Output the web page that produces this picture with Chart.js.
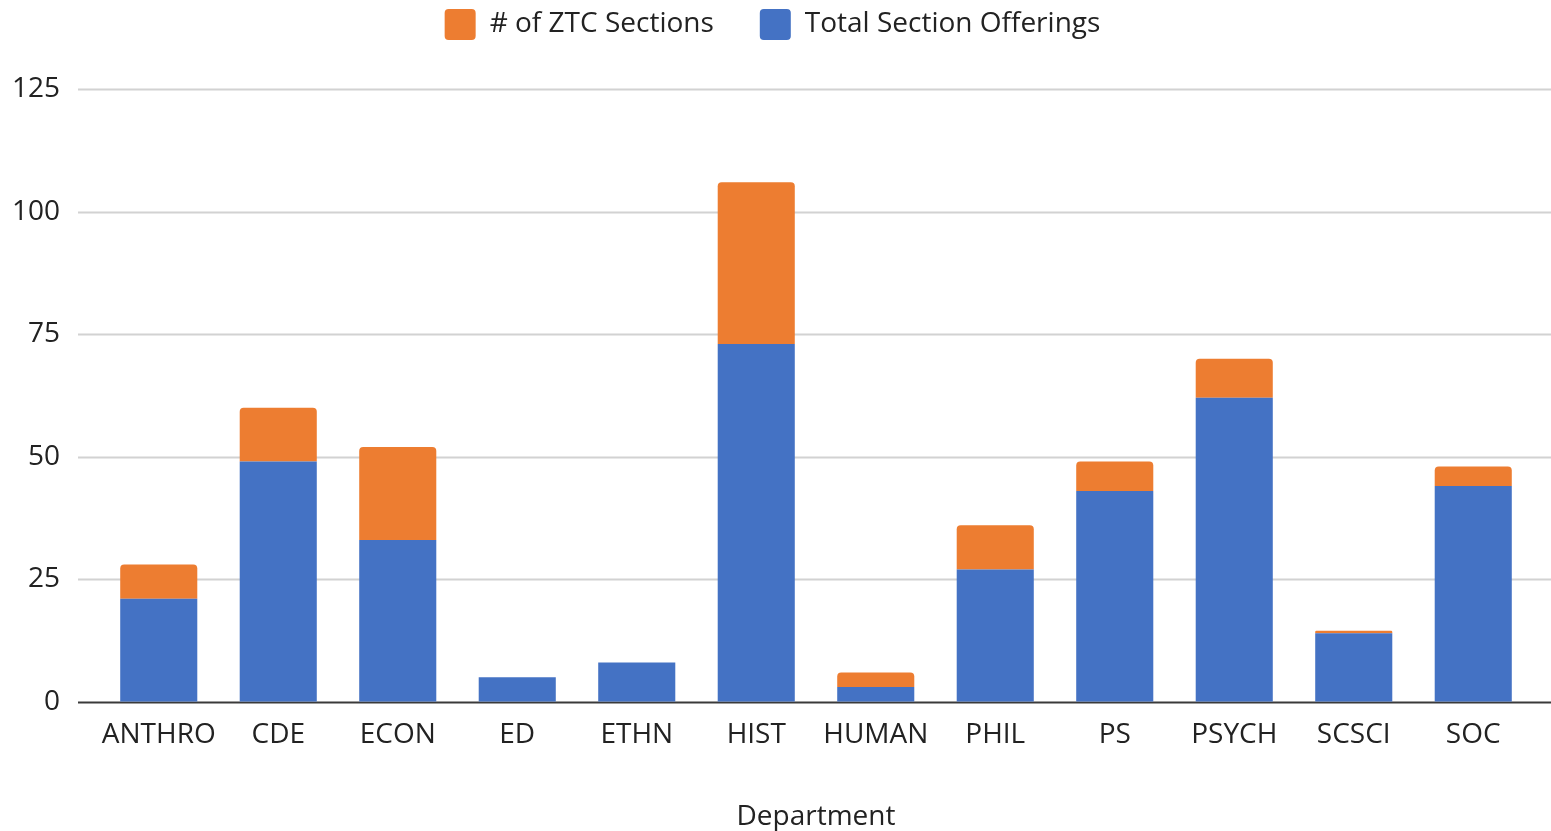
<!DOCTYPE html>
<html lang="en">
<head>
  <meta charset="UTF-8">
  <title>ZTC Sections by Department</title>
  <script src="https://cdn.jsdelivr.net/npm/chart.js"></script>
  <style>
    html, body {
      margin: 0;
      padding: 0;
      background: #fff;
    }
    .chart-wrap {
      width: 1551px;
      height: 831px;
    }
  </style>
</head>
<body>
  <div class="chart-wrap">
    <canvas id="ztcChart"></canvas>
  </div>

  <script>
    // data
    const departments = ['ANTHRO', 'CDE', 'ECON', 'ED', 'ETHN', 'HIST', 'HUMAN', 'PHIL', 'PS', 'PSYCH', 'SCSCI', 'SOC'];
    const totalOfferings = [21, 49, 33, 5, 8, 73, 3, 27, 43, 62, 14, 44];
    const ztcSections = [7, 11, 19, 0, 0, 33, 3, 9, 6, 8, 0.5, 4];
    const yTicks = [0, 25, 50, 75, 100, 125];

    const textColor = '#222';
    const fontFamily = '"Open Sans", sans-serif';

    // grid lines reach a bit past the category band, like the original
    const gridPlugin = {
      id: 'wideGrid',
      beforeDatasetsDraw(chart) {
        const ctx = chart.ctx;
        const y = chart.scales.y;
        ctx.save();
        yTicks.forEach(function (v) {
          const py = Math.round(y.getPixelForValue(v)) + 0.5;
          ctx.beginPath();
          ctx.strokeStyle = v === 0 ? '#3a3a3a' : '#d2d2d2';
          ctx.lineWidth = 2;
          ctx.moveTo(chart.chartArea.left - 21, py);
          ctx.lineTo(chart.chartArea.right + 18, py);
          ctx.stroke();
        });
        ctx.restore();
      }
    };

    // more room between the legend and the plot
    const legendGap = {
      id: 'legendGap',
      beforeInit(chart) {
        const fit = chart.legend.fit;
        chart.legend.fit = function () {
          fit.call(this);
          this.height += 39;
        };
      }
    };

    const ctx = document.getElementById('ztcChart').getContext('2d');
    new Chart(ctx, {
      type: 'bar',
      data: {
        labels: departments,
        datasets: [
          {
            label: 'Total Section Offerings',
            data: totalOfferings,
            backgroundColor: '#4472C4',
            borderWidth: 0,
            borderRadius: 0
          },
          {
            label: '# of ZTC Sections',
            data: ztcSections,
            backgroundColor: '#ED7D31',
            borderWidth: 0,
            borderRadius: 4,
            borderSkipped: 'bottom'
          }
        ]
      },
      options: {
        responsive: true,
        maintainAspectRatio: false,
        animation: false,
        categoryPercentage: 1,
        barPercentage: 0.645,
        layout: {
          padding: { top: -37, right: 18, left: 12, bottom: -6 }
        },
        plugins: {
          tooltip: { enabled: false },
          legend: {
            position: 'top',
            reverse: true,
            labels: {
              color: textColor,
              font: { family: fontFamily, size: 28 },
              boxWidth: 31,
              boxHeight: 31,
              useBorderRadius: true,
              borderRadius: 4,
              padding: 46
            }
          }
        },
        scales: {
          x: {
            stacked: true,
            grid: { display: false, drawTicks: false },
            border: { display: false },
            ticks: {
              color: textColor,
              font: { family: fontFamily, size: 28 },
              padding: 16,
              maxRotation: 0
            },
            title: {
              display: true,
              text: 'Department',
              color: textColor,
              font: { family: fontFamily, size: 28 },
              padding: { top: 33, bottom: 3 }
            }
          },
          y: {
            stacked: true,
            min: 0,
            max: 125,
            afterBuildTicks(scale) {
              scale.ticks = yTicks.map(function (v) { return { value: v }; });
            },
            afterFit(scale) {
              scale.width = 87;
            },
            grid: { display: false, drawTicks: false },
            border: { display: false },
            ticks: {
              color: textColor,
              font: { family: fontFamily, size: 28 },
              padding: 39
            }
          }
        }
      },
      plugins: [gridPlugin, legendGap]
    });
  </script>
</body>
</html>
